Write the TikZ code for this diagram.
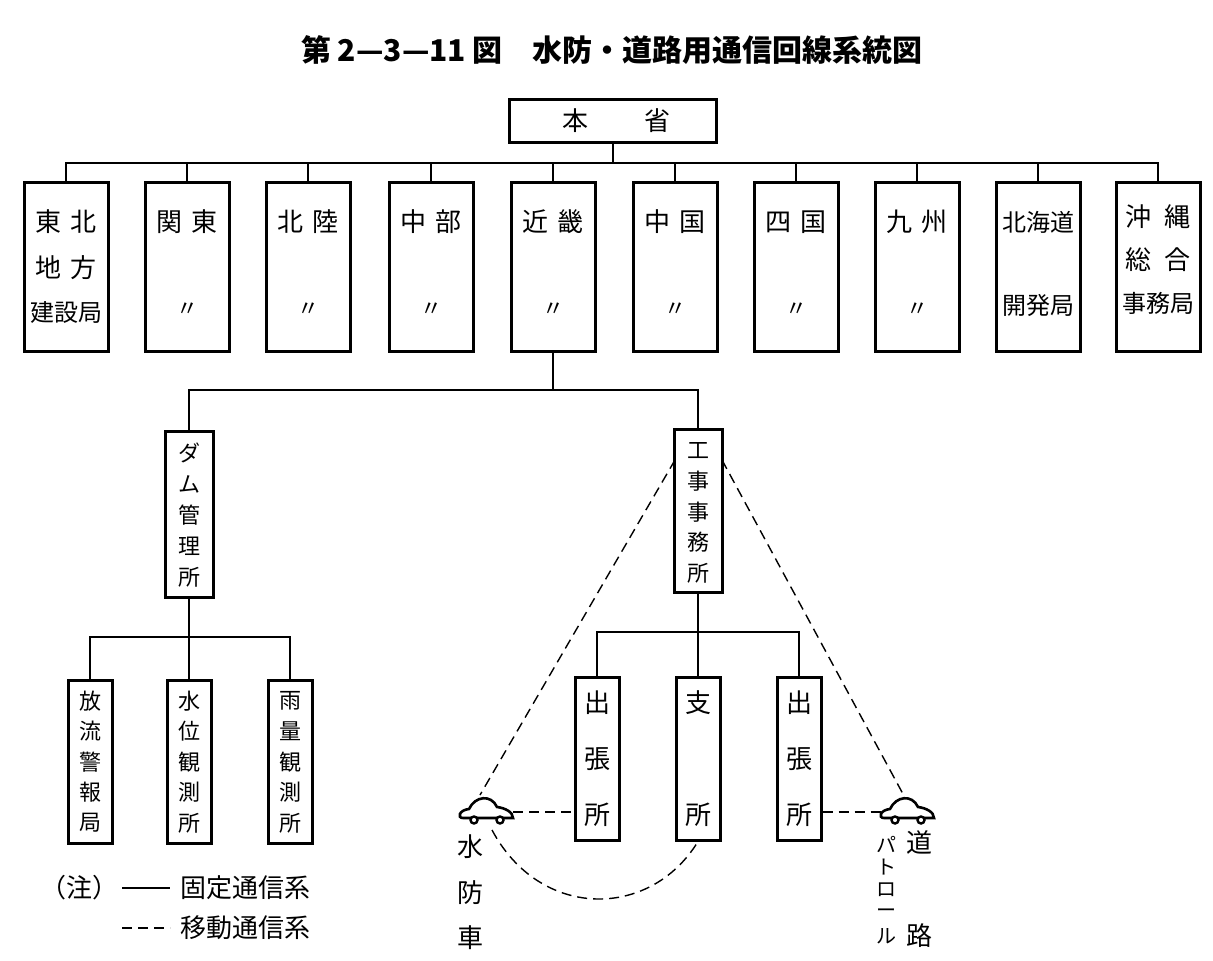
\documentclass[tikz,border=0pt]{standalone}
\usepackage{fontspec}
\setmainfont{Noto Sans CJK JP}
\begin{document}
\begin{tikzpicture}[x=0.5pt,y=-0.5pt,
  box/.style={draw,line width=1.5pt,inner sep=0pt},
  ln/.style={line width=0.7pt},
  dsh/.style={line width=0.7pt,dash pattern=on 5pt off 3pt},
  txt/.style={inner sep=0pt,font=\fontsize{13}{13}\selectfont},
  tx3/.style={inner sep=0pt,font=\fontsize{12}{12}\selectfont},
  tn/.style={inner sep=0pt,font=\fontsize{11}{11}\selectfont},
  sm/.style={inner sep=0pt,font=\fontsize{11}{11}\selectfont}]
\useasboundingbox (0,0) rectangle (1213,961);
\newcommand\vt[4]{\foreach \c [count=\i] in {#4} \node[tn] at (#1,{#2+(\i-1)*#3}) {\c};}
\node[font=\bfseries\fontsize{15}{15}\selectfont,inner sep=0pt] (title) at (612,50) {第 2—3—11 図\hspace{1em}水防・道路用通信回線系統図};
% head
\node[box,minimum width=103.5pt,minimum height=21.5pt] (hq) at (613,121) {};
\node[txt] at (575,121) {本}; \node[txt] at (657,121) {省};
% regional
\foreach \x [count=\k] in {66,187,308,431,553,675,796,917,1038,1158}
  \node[box,minimum width=42pt,minimum height=84.5pt] (r\k) at (\x,267.5) {};
\draw[ln] (hq.south) -- (613,163);
\draw[ln] (r1.north) -- (66,163) -- (1158,163) -- (r10.north);
\foreach \k in {2,...,9} \draw[ln] (r\k.north) -- (r\k.north |- 0,163);
\node[txt] at (66,222) {東\,\,北}; \node[txt] at (66,268) {地\,\,方}; \node[tx3] at (66,313) {建設局};
\node[txt] at (187,222) {関\,\,東}; \node[sm] at (187,310) {〃};
\node[txt] at (308,222) {北\,\,陸}; \node[sm] at (308,310) {〃};
\node[txt] at (431,222) {中\,\,部}; \node[sm] at (431,310) {〃};
\node[txt] at (553,222) {近\,\,畿}; \node[sm] at (553,310) {〃};
\node[txt] at (675,222) {中\,\,国}; \node[sm] at (675,310) {〃};
\node[txt] at (796,222) {四\,\,国}; \node[sm] at (796,310) {〃};
\node[txt] at (917,222) {九\,\,州}; \node[sm] at (917,310) {〃};
\node[tx3] at (1038,222) {北海道}; \node[tx3] at (1038,305) {開発局};
\node[txt] at (1158,217) {沖\,\,\,縄}; \node[txt] at (1158,260) {総\,\,\,合}; \node[tx3] at (1158,303) {事務局};
% second level
\node[box,minimum width=24pt,minimum height=82.5pt] (dam) at (189,514.5) {};
\node[box,minimum width=24pt,minimum height=81pt] (kj) at (698,511) {};
\draw[ln] (r5.south) -- (553,390);
\draw[ln] (dam.north) -- (189,390) -- (698,390) -- (kj.north);
\vt{189}{453}{31}{ダ,ム,管,理,所}
\vt{698}{451}{30.5}{工,事,事,務,所}
% dam children
\node[box,minimum width=22pt,minimum height=81.5pt] (d1) at (90,761.5) {};
\node[box,minimum width=22pt,minimum height=81.5pt] (d2) at (189,761.5) {};
\node[box,minimum width=22pt,minimum height=81.5pt] (d3) at (290,761.5) {};
\draw[ln] (dam.south) -- (189,637);
\draw[ln] (d1.north) -- (90,637) -- (290,637) -- (d3.north);
\draw[ln] (d2.north) -- (189,637);
\vt{90}{701}{30.5}{放,流,警,報,局}
\vt{189}{701}{30.5}{水,位,観,測,所}
\vt{290}{701}{30.5}{雨,量,観,測,所}
% kouji children
\node[box,minimum width=22pt,minimum height=81.5pt] (k1) at (597,758.5) {};
\node[box,minimum width=22pt,minimum height=81.5pt] (k2) at (698,758.5) {};
\node[box,minimum width=22pt,minimum height=81.5pt] (k3) at (799,758.5) {};
\draw[ln] (kj.south) -- (698,632);
\draw[ln] (k1.north) -- (597,632) -- (799,632) -- (k3.north);
\draw[ln] (k2.north) -- (698,632);
\foreach \x in {597,799}{\node[txt] at (\x,703) {出}; \node[txt] at (\x,759) {張}; \node[txt] at (\x,815) {所};}
\node[txt] at (698,703) {支}; \node[txt] at (698,815) {所};
% cars
\foreach \cx/\nm in {487/carL,908/carR}{
  \begin{scope}[shift={(\cx,810)}]
  \draw[line width=1.3pt,fill=white] (-24,8) .. controls (-30,8) and (-28,0) .. (-18,-1)
     .. controls (-12,-14) and (4,-16) .. (10,-3) .. controls (18,-2) and (26,2) .. (26,8) -- cycle;
  \draw[line width=1.2pt,fill=white] (-13,10) circle (3.5) (13,10) circle (3.5);
  \end{scope}
  \coordinate (\nm) at (\cx,810);
}
\coordinate (cLt) at (480,795); \coordinate (cRt) at (903,794);
\draw[dsh] (675,460) -- (cLt);
\draw[dsh] (722,460) -- (cRt);
\draw[dsh] (513,812) -- (k1.west |- 0,812);
\draw[dsh] (k3.east |- 0,812) -- (883,812);
\draw[dsh] (492,830) .. controls (540,920) and (650,920) .. (k2.south);
\node[txt] at (470,847) {水}; \node[txt] at (470,893) {防}; \node[txt] at (470,938) {車};
\node[txt] at (919,843) {道}; \node[txt] at (919,936) {路};
\foreach \c [count=\i] in {パ,ト,ロ,ー,ル} \node[inner sep=0pt,font=\fontsize{10}{10}\selectfont] at (886,{844+(\i-1)*23}) {\c};
% legend
\node[txt,anchor=west] at (40,888) {（注）};
\draw[ln] (122,888) -- (170,888);
\node[txt,anchor=west] at (180,888) {固定通信系};
\draw[dsh] (122,928) -- (170,928);
\node[txt,anchor=west] at (180,928) {移動通信系};
\end{tikzpicture}
\end{document}
